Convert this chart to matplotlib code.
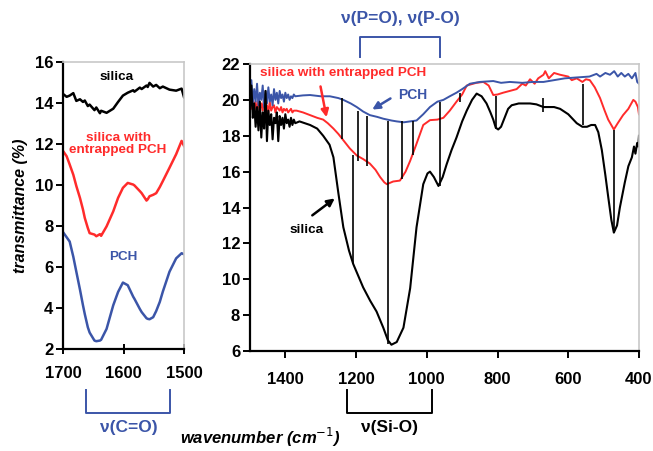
import matplotlib.pyplot as plt
import numpy as np

plt.rcParams['font.family'] = ['Liberation Sans', 'DejaVu Sans']

RED = '#ff2b2b'
BLUE = '#3b55a8'

# ---- left panel: C=O region ----
wn_l = [1700, 1694, 1689, 1683, 1678, 1672, 1667, 1664, 1659, 1656, 1648, 1645, 1639, 1637,
        1628, 1617, 1609, 1601, 1593, 1584, 1582, 1573, 1570, 1562, 1560, 1557, 1551, 1546,
        1540, 1535, 1524, 1513, 1504, 1500]
silica_l = [14.44, 14.30, 14.36, 14.48, 14.10, 14.18, 14.05, 14.12, 13.85, 13.92, 13.65, 13.78,
            13.50, 13.62, 13.52, 13.72, 14.05, 14.36, 14.50, 14.62, 14.55, 14.75, 14.68, 14.85,
            14.78, 14.98, 14.80, 14.88, 14.72, 14.80, 14.65, 14.60, 14.70, 14.28]
entrapped_l = [11.66, 11.40, 11.00, 10.50, 9.95, 9.37, 8.80, 8.39, 7.90, 7.65, 7.58, 7.50, 7.60,
               7.52, 7.98, 8.71, 9.37, 9.86, 10.10, 10.02, 9.98, 9.70, 9.60, 9.24, 9.30, 9.45,
               9.52, 9.60, 9.90, 10.19, 10.84, 11.50, 12.15, 11.90]
pch_l = [7.70, 7.45, 7.24, 6.50, 5.77, 4.90, 4.13, 3.70, 3.06, 2.80, 2.41, 2.38, 2.41, 2.45,
         2.98, 4.13, 4.78, 5.24, 5.11, 4.55, 4.45, 3.95, 3.80, 3.50, 3.47, 3.45, 3.55, 3.85,
         4.30, 4.80, 5.77, 6.42, 6.67, 6.62]

# ---- right panel: 1500-400 ----
wn_noise = list(range(1500, 1371, -4))
silica_noise = [19.5, 20.8, 19.0, 19.8, 18.5, 19.6, 18.3, 19.9, 17.9, 19.3, 18.4, 20.5, 17.7,
                19.4, 18.6, 19.2, 17.8, 19.0, 18.7, 19.3, 17.7, 19.1, 18.6, 19.0, 18.4, 19.2,
                18.7, 18.9, 18.5, 19.0, 18.6, 18.9, 18.7]
pch_noise = [20.5, 21.1, 19.8, 20.6, 19.9, 20.9, 19.7, 20.4, 20.0, 20.8, 19.6, 20.5, 19.8,
             20.7, 19.9, 20.3, 19.7, 20.6, 20.0, 20.4, 19.8, 20.5, 20.1, 20.3, 19.9, 20.4,
             20.1, 20.3, 20.0, 20.2, 20.1, 20.3, 20.2]
entrapped_noise = [20.0, 19.5, 20.2, 19.4, 19.9, 19.3, 20.0, 19.5, 19.8, 19.4, 20.1, 19.5, 19.7,
                   19.3, 19.9, 19.4, 19.6, 19.7, 19.3, 19.6, 19.5, 19.4, 19.6, 19.3, 19.5, 19.4,
                   19.5, 19.3, 19.4, 19.5, 19.3, 19.4, 19.4]

wn_silica = [1360, 1330, 1310, 1293, 1275, 1264, 1250, 1236, 1220, 1208, 1180, 1160, 1142, 1123,
             1110, 1100, 1085, 1066, 1047, 1029, 1010, 998, 991, 980, 967, 955, 944, 930, 916,
             900, 887, 872, 859, 845, 831, 820, 812, 805, 798, 790, 779, 770, 760, 740, 708,
             690, 670, 640, 623, 600, 576, 560, 547, 535, 524, 515, 505, 495, 487, 478, 471,
             462, 454, 440, 430, 420, 414, 410, 405, 402, 400]
silica_r = [18.8, 18.6, 18.4, 18.0, 17.5, 16.8, 14.8, 12.9, 11.6, 10.85, 9.55, 8.8, 8.2, 7.3,
            6.6, 6.35, 6.5, 7.3, 9.5, 12.9, 15.3, 15.9, 16.0, 15.7, 15.2, 15.7, 16.4, 17.2, 17.9,
            18.8, 19.4, 20.0, 20.35, 20.2, 19.8, 19.3, 18.9, 18.45, 18.35, 18.5, 19.05, 19.5,
            19.7, 19.8, 19.8, 19.75, 19.6, 19.6, 19.5, 19.2, 18.7, 18.5, 18.5, 18.6, 18.6, 18.2,
            17.2, 15.8, 14.6, 13.3, 12.6, 13.0, 14.0, 15.4, 16.3, 16.8, 17.4, 17.0, 17.6, 17.4,
            18.0]

wn_pch = [1350, 1330, 1300, 1274, 1250, 1236, 1215, 1198, 1180, 1161, 1140, 1123, 1100, 1085,
          1065, 1047, 1029, 1010, 991, 970, 953, 935, 916, 900, 878, 850, 812, 790, 765, 730,
          700, 670, 640, 610, 576, 540, 520, 510, 495, 482, 470, 460, 450, 440, 430, 420, 410,
          405, 400]
pch_r = [20.25, 20.27, 20.2, 20.2, 20.1, 20.0, 19.8, 19.6, 19.35, 19.15, 19.05, 18.95, 18.85,
         18.8, 18.75, 18.8, 18.85, 19.2, 19.6, 19.9, 20.0, 20.2, 20.4, 20.6, 20.9, 21.0, 21.05,
         20.95, 21.0, 20.95, 21.0, 21.0, 21.1, 21.2, 21.25, 21.3, 21.45, 21.3, 21.5, 21.4,
         21.6, 21.3, 21.5, 21.3, 21.45, 21.2, 21.5, 21.0, 20.9]

wn_entr = [1368, 1350, 1330, 1310, 1293, 1280, 1264, 1250, 1236, 1218, 1198, 1180, 1161, 1145,
           1132, 1120, 1113, 1095, 1076, 1060, 1047, 1030, 1010, 991, 970, 953, 935, 916, 900,
           887, 860, 840, 825, 812, 800, 784, 765, 746, 730, 720, 708, 695, 685, 670, 665, 655,
           640, 623, 600, 590, 576, 560, 550, 539, 525, 510, 497, 487, 471, 460, 445, 430, 416,
           410, 403, 400]
entrapped_r = [19.4, 19.3, 19.15, 19.0, 18.9, 18.7, 18.4, 18.1, 17.75, 17.3, 16.9, 16.7, 16.45,
               16.1, 15.7, 15.4, 15.3, 15.45, 15.5, 16.0, 16.6, 17.5, 18.6, 18.87, 18.9, 19.0,
               19.4, 19.9, 20.3, 20.8, 20.95, 21.0, 20.8, 20.27, 20.3, 20.4, 20.5, 20.6, 20.9,
               20.8, 21.15, 20.9, 21.2, 21.4, 21.6, 21.2, 21.5, 21.4, 21.3, 21.1, 21.2, 21.0,
               21.15, 21.1, 20.7, 20.1, 19.4, 18.9, 18.35, 18.7, 19.15, 19.5, 20.0, 19.9, 19.6,
               19.2]

# vertical artefact lines in the silica trace: wavenumber, low, high
spike_wn = [1241, 1208, 1195, 1170, 1109, 1071, 1038, 962, 906, 805, 671, 558, 471]
spike_lo = [17.8, 10.85, 16.6, 16.3, 6.4, 15.6, 16.9, 15.2, 19.9, 18.4, 19.3, 18.6, 12.6]
spike_hi = [20.1, 16.9, 19.4, 19.1, 18.85, 18.8, 18.8, 19.9, 20.4, 20.2, 20.1, 20.9, 18.3]

fig = plt.figure(figsize=(6.53, 4.51), dpi=100)
ax1 = fig.add_axes([0.0965, 0.2262, 0.1853, 0.6364])
ax2 = fig.add_axes([0.3828, 0.2217, 0.5957, 0.6364])

for ax in (ax1, ax2):
    for s in ('top', 'right'):
        ax.spines[s].set_color('#c8c8c8')
        ax.spines[s].set_linewidth(1.2)
    for s in ('left', 'bottom'):
        ax.spines[s].set_linewidth(1.6)
    ax.tick_params(width=1.4, length=5, labelsize=12)

ax1.plot(wn_l, silica_l, color='black', lw=1.8)
ax1.plot(wn_l, entrapped_l, color=RED, lw=1.8)
ax1.plot(wn_l, pch_l, color=BLUE, lw=1.8)
ax1.set_xlim(1700, 1500)
ax1.set_ylim(2, 16)
ax1.set_xticks([1700, 1600, 1500])
ax1.set_yticks(range(2, 17, 2))
ax1.tick_params(axis='x', direction='inout', length=7, pad=9)
ax1.tick_params(axis='y', pad=2)
ax1.set_ylabel('transmittance (%)', fontsize=11.5, fontweight='bold', style='italic', labelpad=5)

ax1.text(1611, 15.25, 'silica', ha='center', va='center', fontsize=9.7, fontweight='bold')
ax1.text(1609, 12.0, 'silica with\nentrapped PCH', ha='center', va='center', fontsize=9.7,
         fontweight='bold', color=RED, linespacing=1.1)
ax1.text(1601, 6.5, 'PCH', ha='center', va='center', fontsize=9.7, fontweight='bold', color=BLUE)

ax2.plot(wn_noise + wn_entr, entrapped_noise + entrapped_r, color=RED, lw=1.4)
ax2.plot(wn_noise + wn_pch, pch_noise + pch_r, color=BLUE, lw=1.4)
ax2.plot(wn_noise + wn_silica, silica_noise + silica_r, color='black', lw=1.5)
ax2.vlines(spike_wn, spike_lo, spike_hi, color='black', lw=1.2)
ax2.set_xlim(1500, 400)
ax2.set_ylim(6, 22)
ax2.set_xticks(range(1400, 399, -200))
ax2.set_yticks(range(6, 23, 2))
ax2.tick_params(axis='x', pad=10)
ax2.tick_params(axis='y', pad=2)

for ax in (ax1, ax2):
    for lab in ax.get_xticklabels() + ax.get_yticklabels():
        lab.set_fontweight('bold')

ax2.text(1472, 21.5, 'silica with entrapped PCH', ha='left', va='center', fontsize=9.7,
         fontweight='bold', color=RED)
ax2.annotate('', xy=(1282, 18.88), xytext=(1302, 20.9),
             arrowprops=dict(arrowstyle='-|>', color=RED, lw=1.8, mutation_scale=11))
ax2.text(1081, 20.27, 'PCH', ha='left', va='center', fontsize=10, fontweight='bold', color=BLUE)
ax2.annotate('', xy=(1161, 19.38), xytext=(1096, 20.16),
             arrowprops=dict(arrowstyle='-|>', color=BLUE, lw=1.8, mutation_scale=11))
ax2.text(1339, 12.75, 'silica', ha='center', va='center', fontsize=9.7, fontweight='bold')
ax2.annotate('', xy=(1254, 14.6), xytext=(1330, 13.47),
             arrowprops=dict(arrowstyle='-|>', color='black', lw=1.8, mutation_scale=11))

# assignment brackets
tr2 = ax2.get_xaxis_transform()
ax2.plot([1189, 1189, 963, 963], [1.024, 1.094, 1.094, 1.024], transform=tr2,
         color=BLUE, lw=1.4, clip_on=False)
ax2.text(1076, 1.16, 'ν(P=O), ν(P-O)', transform=tr2, ha='center', va='center',
         fontsize=12.5, fontweight='bold', color=BLUE)
ax2.plot([1226, 1226, 985, 985], [-0.136, -0.216, -0.216, -0.136], transform=tr2,
         color='black', lw=1.4, clip_on=False)
ax2.text(1105, -0.268, 'ν(Si-O)', transform=tr2, ha='center', va='center',
         fontsize=12.5, fontweight='bold')

tr1 = ax1.get_xaxis_transform()
ax1.plot([1662, 1662, 1523, 1523], [-0.143, -0.223, -0.223, -0.143], transform=tr1,
         color=BLUE, lw=1.4, clip_on=False)
ax1.text(1592, -0.275, 'ν(C=O)', transform=tr1, ha='center', va='center',
         fontsize=12.5, fontweight='bold', color=BLUE)

fig.text(0.398, 0.03, 'wavenumber (cm$^{-1}$)', ha='center', va='center',
         fontsize=12, fontweight='bold', style='italic')

fig.savefig('out.png', dpi=100)
